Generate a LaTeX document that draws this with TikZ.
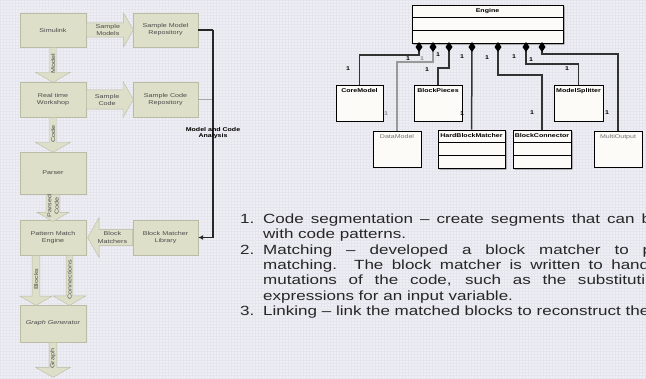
\documentclass[tikz,border=0pt]{standalone}
\usepackage{fontspec}
\setmainfont{Liberation Sans}[FakeStretch=1.28]
\usetikzlibrary{shapes.arrows,shapes.multipart,shadows,arrows.meta}

\definecolor{slidebg}{HTML}{EEEEF4}
\definecolor{slidegrid}{HTML}{E5E5EE}
\definecolor{flowfill}{HTML}{DEDFC9}
\definecolor{flowedge}{HTML}{BABCA3}
\definecolor{classfill}{HTML}{FDFBF7}

\begin{document}
\begin{tikzpicture}[x=1pt,y=-1pt,
   flowbox/.style={rectangle,fill=flowfill,draw=flowedge,line width=0.4pt,
     minimum width=66pt,inner sep=0pt,align=center,
     font=\fontsize{5.6}{7}\selectfont,text=black!70,
     drop shadow={shadow xshift=0.6pt,shadow yshift=-0.9pt,fill=black!50,opacity=1}},
   flowarrow/.style={single arrow,fill=flowfill,draw=flowedge,line width=0.4pt,
     single arrow tip angle=120,anchor=tail,inner sep=0pt,align=center,
     font=\fontsize{5.6}{7}\selectfont,text=black!70},
   busline/.style={line width=1.3pt,draw=black!85},
   umlbox/.style={rectangle,draw=black,line width=0.7pt,fill=classfill,
     inner xsep=1pt,inner ysep=2pt,text height=5pt,text depth=27pt,
     font=\fontsize{5.5}{6}\selectfont\bfseries,
     drop shadow={shadow xshift=1.4pt,shadow yshift=-1.4pt,fill=black!75,opacity=1}},
   umlsplit/.style={rectangle split,rectangle split parts=3,draw=black,
     line width=0.7pt,fill=classfill,inner xsep=1pt,inner ysep=2pt,
     rectangle split empty part height=5.6pt,
     rectangle split empty part depth=2.4pt,
     font=\fontsize{5.5}{8}\selectfont\bfseries,
     drop shadow={shadow xshift=1.4pt,shadow yshift=-1.4pt,fill=black!75,opacity=1}},
   compos/.style={{Diamond[length=10pt,width=7pt,color=black]}-,
     line width=1.5pt,draw=black!80},
   mult/.style={font=\fontsize{5.5}{6}\selectfont\bfseries,inner sep=0pt},
   listtext/.style={anchor=base west,inner sep=0pt,
     font=\fontsize{13.3}{15.4}\selectfont,text=black!85}
    ]

  % -- slide background
  \useasboundingbox (0,0) rectangle (646,378);
  \clip (0,0) rectangle (646,378);
  \fill[slidebg] (0,0) rectangle (646,378);
  \draw[slidegrid,line width=0.5pt] (0,0) grid[step=3pt] (646,378);

  % -- tool chain
  \node[flowbox,minimum height=34pt] (sim) at (53,30) {Simulink};
  \node[flowbox,minimum width=65pt,minimum height=34pt] (smrepo) at (165.5,30) {Sample Model\\Repository};
  \node[flowbox,minimum height=35pt] (rtw) at (53,99.5) {Real time\\Workshop};
  \node[flowbox,minimum width=65pt,minimum height=35pt] (screpo) at (165.5,99.5) {Sample Code\\Repository};
  \node[flowbox,minimum height=42pt] (parser) at (53,173) {Parser};
  \node[flowbox,minimum height=35pt] (pme) at (53,237.5) {Pattern Match\\Engine};
  \node[flowbox,minimum width=65pt,minimum height=35pt] (blib) at (165.5,237.5) {Block Matcher\\Library};
  \node[flowbox,minimum height=37pt] (gg) at (53,323.5) {\itshape Graph Generator};

  % -- fat arrows
  \node[flowarrow,minimum height=47pt,minimum width=34pt,single arrow head extend=8pt] (asmodels) at (sim.east) {Sample\\Models};
  \node[flowarrow,minimum height=47pt,minimum width=36pt,single arrow head extend=5pt] (ascode) at (rtw.east) {Sample\\Code};
  \node[flowarrow,rotate=-90,minimum height=35pt,minimum width=35pt,single arrow head extend=10pt] (amodel) at (sim.south) {\rotatebox{180}{Model}};
  \node[flowarrow,rotate=-90,minimum height=35pt,minimum width=35pt,single arrow head extend=10pt] (acode) at (rtw.south) {\rotatebox{180}{Code}};
  \node[flowarrow,rotate=-90,minimum height=26pt,minimum width=32pt,single arrow head extend=7.5pt] (aparsed) at (parser.south) {\rotatebox{180}{\shortstack{Parsed\\Code}}};
  \node[flowarrow,rotate=180,minimum height=45pt,minimum width=40pt,single arrow head extend=8.5pt] (amatchers) at (blib.west) {\rotatebox{180}{\shortstack{Block\\Matchers}}};
  \node[flowarrow,rotate=-90,minimum height=50pt,minimum width=32pt,single arrow head extend=7pt] (ablocks) at ([xshift=-17pt]pme.south) {\rotatebox{180}{Blocks}};
  \node[flowarrow,rotate=-90,minimum height=50pt,minimum width=33pt,single arrow head extend=9pt] (aconn) at ([xshift=16.5pt]pme.south) {\rotatebox{180}{Connections}};
  \node[flowarrow,rotate=-90,minimum height=35pt,minimum width=35pt,single arrow head extend=10pt] (agraph) at (gg.south) {\rotatebox{180}{Graph}};

  % -- analysis bus into the matcher library
  \coordinate (bus) at (213,0);
  \draw[busline] (smrepo.east) -- (smrepo.east -| bus);
  \draw[busline,draw=black!35] (screpo.east) -- (screpo.east -| bus);
  \draw[busline,-{Latex[length=5pt,width=5pt]}] (smrepo.east -| bus) -- (blib.east -| bus) -- (blib.east);
  \node[font=\fontsize{5.5}{6.5}\selectfont\bfseries,align=center] (analysis) at (213,133) {Model and Code\\Analysis};

  % -- class diagram
  \node[umlsplit,minimum width=151pt] (engine) at (487.5,24) {\strut Engine\nodepart{second}\nodepart{third}};
  \node[umlbox,minimum width=47pt] (core) at (359.5,103) {CoreModel};
  \node[umlbox,minimum width=48pt] (blockp) at (438,103) {BlockPieces};
  \node[umlbox,minimum width=49pt] (msplit) at (578.5,103) {ModelSplitter};
  \node[umlbox,minimum width=48pt,text=black!55] (data) at (397,149) {\mdseries DataModel};
  \node[umlsplit,minimum width=67pt] (hbm) at (471.5,149) {\strut HardBlockMatcher\nodepart{second}\nodepart{third}};
  \node[umlsplit,minimum width=58pt] (bconn) at (542,149) {\strut BlockConnector\nodepart{second}\nodepart{third}};
  \node[umlbox,minimum width=48pt,text=black!55] (mout) at (618,149) {\mdseries MultiOutput};

  % -- composition ends on the engine
  \coordinate (e1) at (419,42);
  \coordinate (e2) at (433,42);
  \coordinate (e3) at (449,42);
  \coordinate (e4) at (472,42);
  \coordinate (e5) at (498,42);
  \coordinate (e6) at (526,42);
  \coordinate (e7) at (542,42);

  \draw[compos] (e1) -- ++(0,13) -| (core);
  \draw[compos,draw=black!40] (e2) -- ++(0,20) -| (data);
  \draw[compos] (e3) -- ++(0,26) -| (blockp);
  \draw[compos] (e4) -- (hbm);
  \draw[compos] (e5) -- ++(0,33) -| (bconn);
  \draw[compos] (e6) -- ++(0,22) -| (msplit);
  \draw[compos] (e7) -- ++(0,12) -| (mout);

  % -- multiplicities
  \node[mult] (m1) at (348,69) {1};
  \node[mult] (m2) at (408,59) {1};
  \node[mult,text=black!45] (m3) at (422,59) {1};
  \node[mult,text=black!45] (m4) at (386,114) {1};
  \node[mult] (m5) at (438,55) {1};
  \node[mult] (m6) at (427,70) {1};
  \node[mult] (m7) at (462,57) {1};
  \node[mult] (m8) at (462,114) {1};
  \node[mult] (m9) at (487,58) {1};
  \node[mult] (m10) at (532,113) {1};
  \node[mult] (m11) at (514,57) {1};
  \node[mult] (m12) at (531,60) {1};
  \node[mult] (m13) at (567,69) {1};
  \node[mult] (m14) at (607,113) {1};

  % -- steps
  \node[listtext] (n1) at (240,223.3) {1.};
  \node[listtext] (t1) at (263,223.3) {\makebox[388pt][s]{Code segmentation – create segments that can b}};
  \node[listtext] (t1b) at (263,238.7) {with code patterns.};
  \node[listtext] (n2) at (240,254.1) {2.};
  \node[listtext] (t2) at (263,254.1) {\makebox[389pt][s]{Matching – developed a block matcher to p}};
  \node[listtext] (t2b) at (263,269.5) {\makebox[386pt][s]{matching. The block matcher is written to hand}};
  \node[listtext] (t2c) at (263,284.9) {\makebox[382pt][s]{mutations of the code, such as the substituti}};
  \node[listtext] (t2d) at (263,300.3) {expressions for an input variable.};
  \node[listtext] (n3) at (240,315.7) {3.};
  \node[listtext] (t3) at (263,315.7) {Linking – link the matched blocks to reconstruct the};
\end{tikzpicture}
\end{document}
